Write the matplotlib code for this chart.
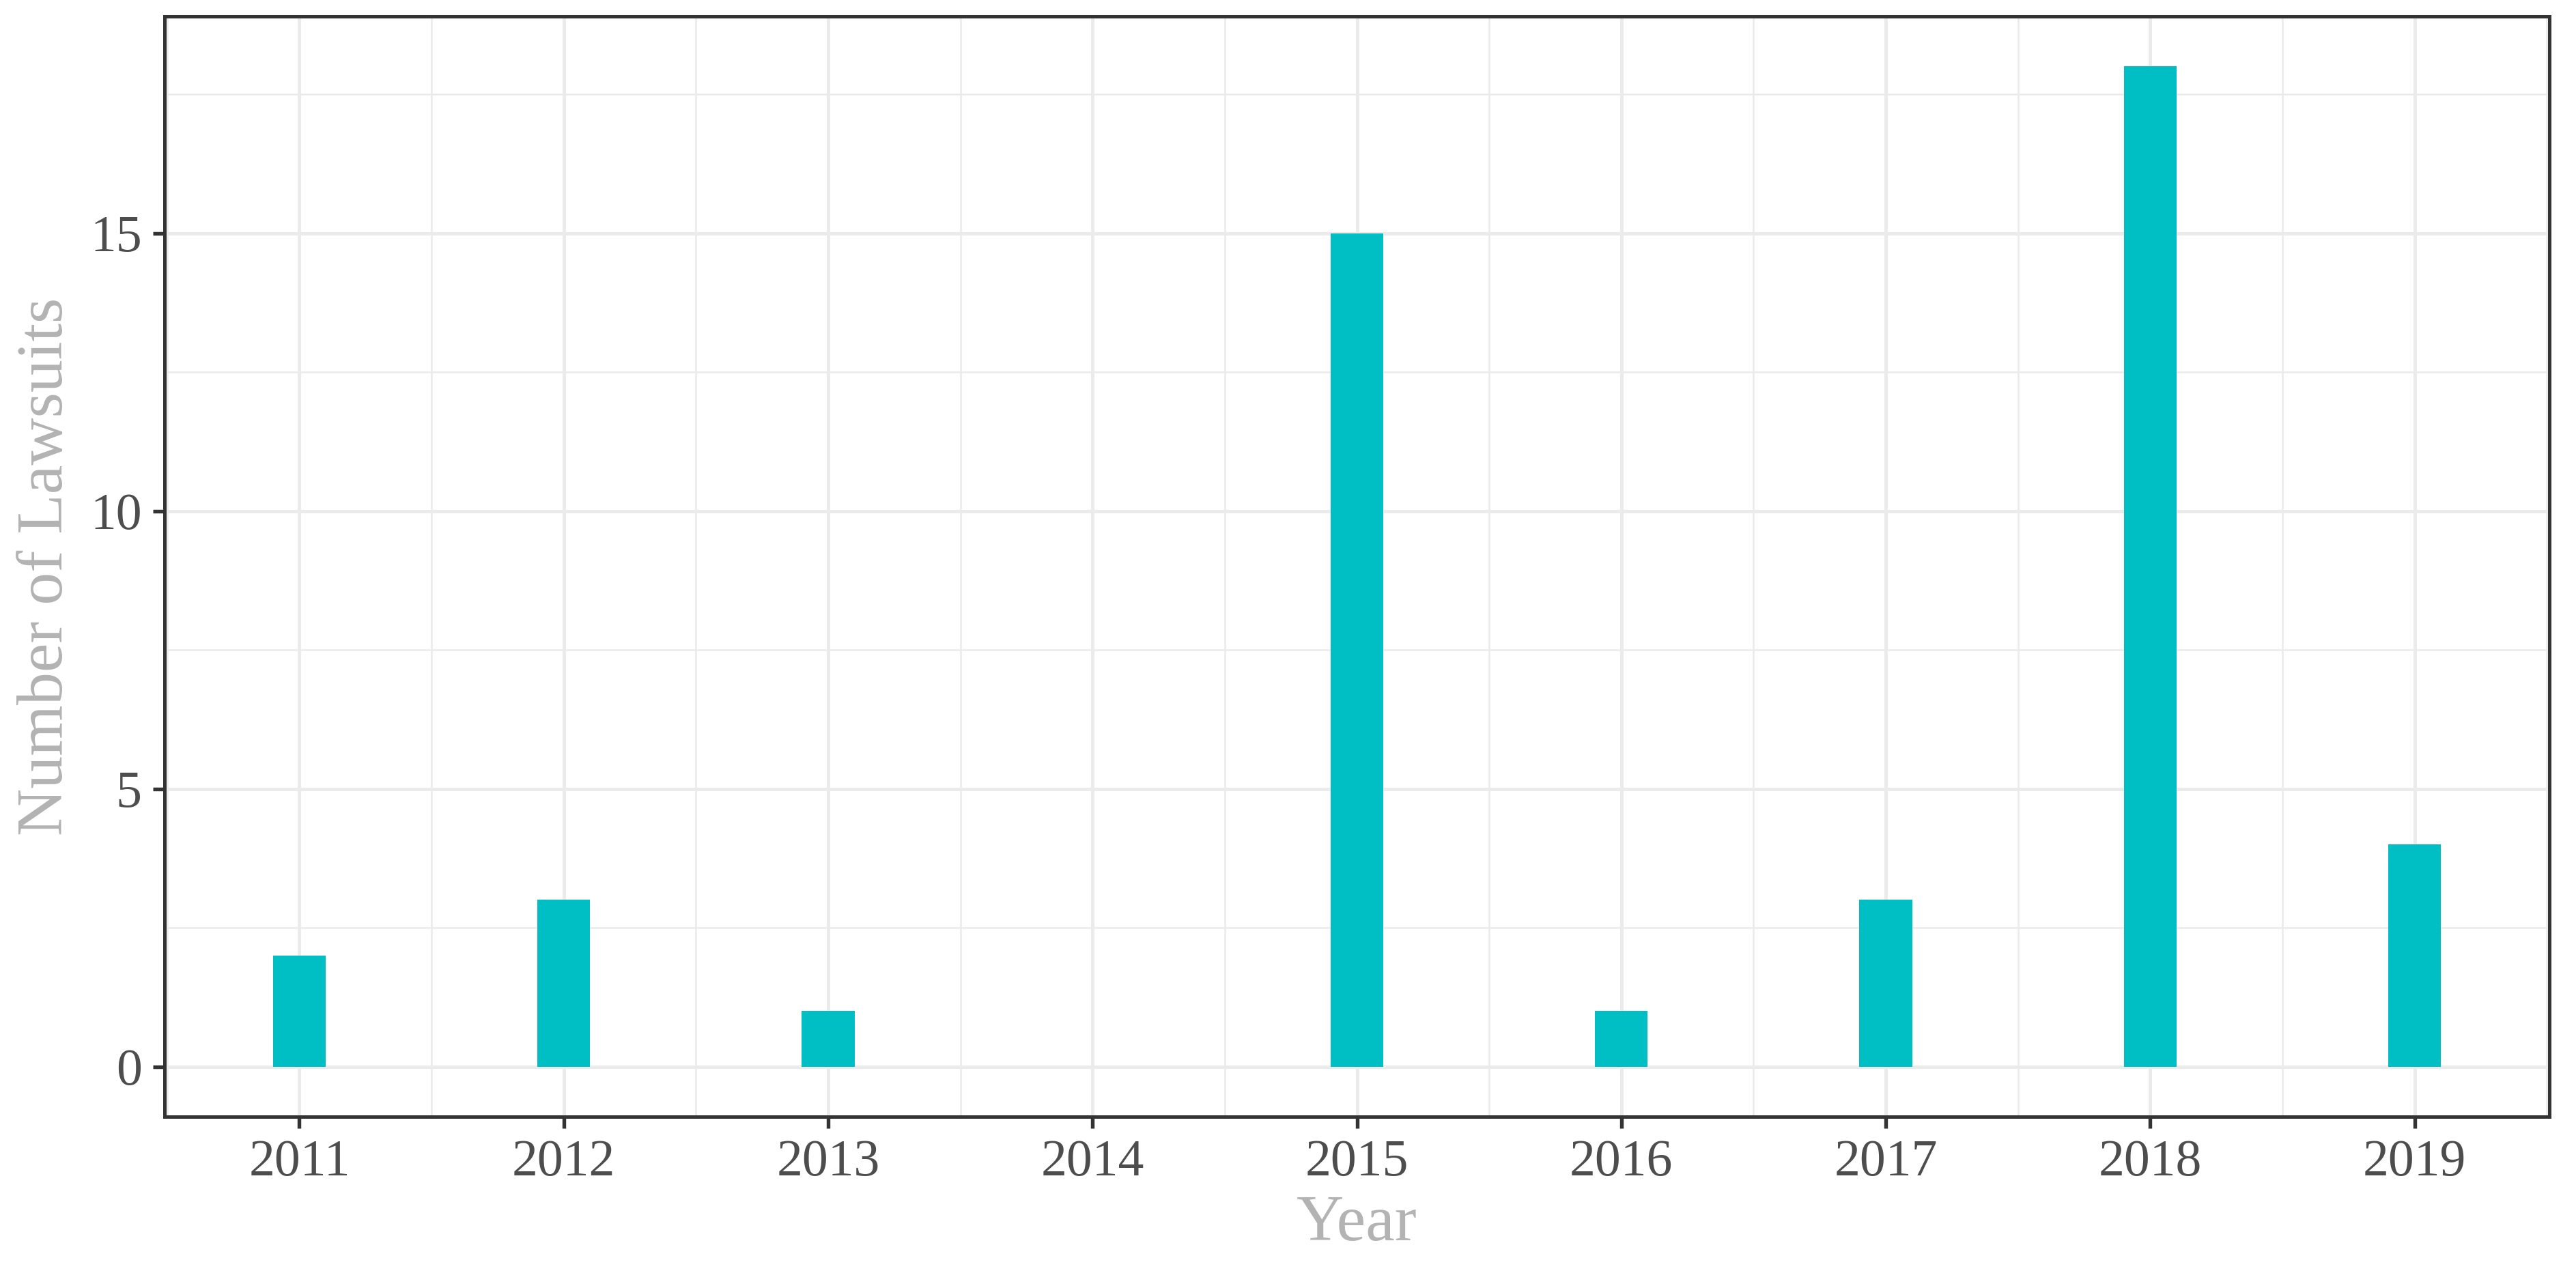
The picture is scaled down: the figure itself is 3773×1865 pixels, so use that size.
import matplotlib
matplotlib.use("Agg")
import matplotlib.pyplot as plt
from matplotlib.ticker import MultipleLocator

years = [2011, 2012, 2013, 2014, 2015, 2016, 2017, 2018, 2019]
lawsuits = [2, 3, 1, 0, 15, 1, 3, 18, 4]
y_ticks = [0, 5, 10, 15]

plt.rcParams['font.family'] = ['Liberation Serif', 'DejaVu Serif']

W, H = 3773, 1865
dpi = 300
fig = plt.figure(figsize=(W / dpi, H / dpi), dpi=dpi)
L, R, T, B = 241, 3734, 24, 1636
ax = fig.add_axes([L / W, 1 - B / H, (R - L) / W, (B - T) / H])

bar_w = 0.2
ax.bar(years, lawsuits, width=bar_w, color='#00BFC4', zorder=3)

xmin, xmax = min(years) - bar_w / 2, max(years) + bar_w / 2
xpad = 0.05 * (xmax - xmin)
ax.set_xlim(xmin - xpad, xmax + xpad)
ymax = max(lawsuits)
ax.set_ylim(-0.05 * ymax, ymax * 1.05)

ax.set_xticks(years)
ax.set_xticklabels([str(y) for y in years])
ax.set_yticks(y_ticks)
ax.xaxis.set_minor_locator(MultipleLocator(0.5))
ax.yaxis.set_minor_locator(MultipleLocator(2.5))

ax.grid(True, which='major', color='#EBEBEB', linewidth=1.2, zorder=0)
ax.grid(True, which='minor', color='#EBEBEB', linewidth=0.6, zorder=0)
ax.set_axisbelow(True)

for s in ax.spines.values():
    s.set_color('#333333')
    s.set_linewidth(1.2)

ax.tick_params(which='major', length=4, width=1.3, color='#333333',
               labelsize=18.2, labelcolor='#4D4D4D', pad=4)
ax.tick_params(which='minor', length=0)

ax.set_xlabel('Year', fontsize=23, color='#B3B3B3', labelpad=3)
ax.set_ylabel('Number of Lawsuits', fontsize=23, color='#B3B3B3', labelpad=5)

fig.savefig('out.png', dpi=dpi, facecolor='white')
